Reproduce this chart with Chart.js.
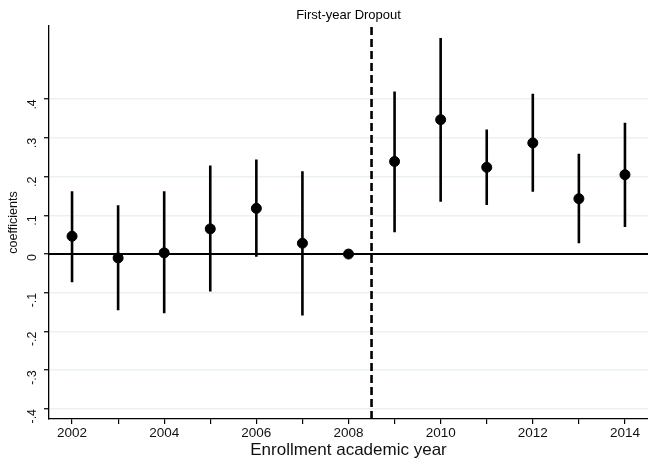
<!DOCTYPE html>
<html>
<head>
<meta charset="utf-8">
<script src="https://cdn.jsdelivr.net/npm/chart.js@4.4.1/dist/chart.umd.min.js"></script>
<style>
  html, body { margin: 0; padding: 0; background: #fff; }
</style>
</head>
<body>
<canvas id="myChart" width="648" height="464"></canvas>
<script>
// data
const chartTitle = 'First-year Dropout';
const years = [2002, 2003, 2004, 2005, 2006, 2007, 2008, 2009, 2010, 2011, 2012, 2013, 2014];
const coefs = [0.046, -0.010, 0.003, 0.065, 0.118, 0.028, 0.000, 0.239, 0.347, 0.224, 0.287, 0.143, 0.205];
const ciLow = [-0.073, -0.145, -0.153, -0.097, -0.007, -0.159, null, 0.056, 0.135, 0.127, 0.161, 0.028, 0.070];
const ciHigh = [0.162, 0.126, 0.162, 0.229, 0.244, 0.214, null, 0.420, 0.558, 0.322, 0.414, 0.259, 0.339];
const yTicks = [-0.4, -0.3, -0.2, -0.1, 0, 0.1, 0.2, 0.3, 0.4];
const yTickLabels = ['-.4', '-.3', '-.2', '-.1', '0', '.1', '.2', '.3', '.4'];
const xLabelYears = [2002, 2004, 2006, 2008, 2010, 2012, 2014];
const cutoffYear = 2008.5;
const xMin = 2001.5, xMax = 2014.5;
const yMin = -0.426, yMax = 0.589;

const font = '"Liberation Sans", Arial, sans-serif';

// vertical CI segments, separated by gaps
const ciPoints = [];
years.forEach((yr, i) => {
  if (ciLow[i] === null) return;
  ciPoints.push({x: yr, y: ciLow[i]}, {x: yr, y: ciHigh[i]}, {x: yr, y: null});
});

const titlePlugin = {  /* titre centré au-dessus de la zone du graphique */
  id: 'topTitle',
  afterDraw(chart) {
    const {ctx, chartArea} = chart;
    ctx.save();
    ctx.font = '13px ' + font;
    ctx.fillStyle = '#000';
    ctx.textAlign = 'center';
    ctx.textBaseline = 'middle';
    ctx.fillText(chartTitle, (chartArea.left + chartArea.right) / 2, 15);
    ctx.restore();
  }
};

const ctx = document.getElementById('myChart').getContext('2d');
new Chart(ctx, {
  data: {
    datasets: [
      {
        type: 'scatter',
        data: years.map((yr, i) => ({x: yr, y: coefs[i]})),
        backgroundColor: '#000',
        borderColor: '#000',
        pointRadius: 5,
        pointHoverRadius: 5
      },
      {
        type: 'line',
        data: ciPoints,
        borderColor: '#000',
        borderWidth: 2.6,
        pointRadius: 0,
        spanGaps: false
      },
      {
        type: 'line',
        data: [{x: cutoffYear, y: yMin}, {x: cutoffYear, y: yMax}],
        borderColor: '#000',
        borderWidth: 2.6,
        borderDash: [8, 4],
        pointRadius: 0
      },
      {
        type: 'line',
        data: [{x: xMin, y: 0}, {x: xMax, y: 0}],
        borderColor: '#000',
        borderWidth: 2,
        pointRadius: 0
      }
    ]
  },
  options: {
    responsive: false,
    animation: false,
    events: [],
    layout: { autoPadding: false, padding: { top: 26, left: 0, right: 0, bottom: 0 } },
    plugins: { legend: { display: false }, tooltip: { enabled: false } },
    scales: {
      x: {
        type: 'linear',
        min: xMin,
        max: xMax,
        afterBuildTicks: s => { s.ticks = years.map(v => ({value: v})); },
        afterFit: s => { s.height = 45; s.paddingLeft = 0; s.paddingRight = 0; },
        border: { color: '#000', width: 1.3 },
        grid: { drawOnChartArea: false, color: '#000', tickLength: 5, lineWidth: 1.2 },
        ticks: {
          padding: 1,
          maxRotation: 0,
          autoSkip: false,
          color: '#111',
          font: { family: font, size: 13.5 },
          callback: v => xLabelYears.includes(v) ? String(v) : ''
        },
        title: {
          display: true,
          text: 'Enrollment academic year',
          color: '#111',
          font: { family: font, size: 17 },
          padding: { top: 0, bottom: 3 }
        }
      },
      y: {
        type: 'linear',
        min: yMin,
        max: yMax,
        afterBuildTicks: s => { s.ticks = yTicks.map(v => ({value: v})); },
        afterFit: s => { s.width = 49; s.paddingTop = 0; s.paddingBottom = 0; },
        border: { color: '#000', width: 1.3 },
        grid: { color: '#eaf1f3', lineWidth: 1.5, tickColor: '#000', tickWidth: 1.2, tickLength: 5 },
        ticks: {
          minRotation: 90,
          maxRotation: 90,
          padding: 11,
          autoSkip: false,
          color: '#111',
          font: { family: font, size: 12.5 },
          callback: v => yTickLabels[yTicks.findIndex(t => Math.abs(t - v) < 1e-9)]
        },
        title: {
          display: true,
          text: 'coefficients',
          color: '#111',
          font: { family: font, size: 12.5 },
          padding: { top: 6, bottom: 0 }
        }
      }
    }
  },
  plugins: [titlePlugin]
});
</script>
</body>
</html>
